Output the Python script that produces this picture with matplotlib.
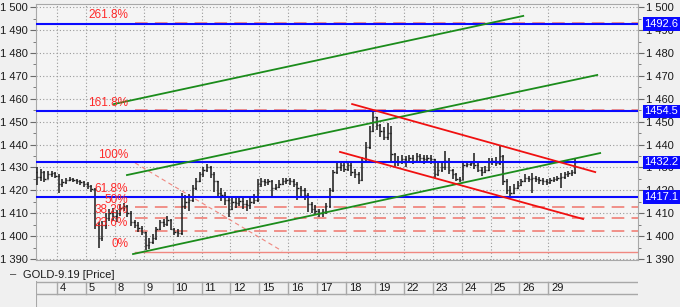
import numpy as np
import matplotlib
matplotlib.use('Agg')
import matplotlib.pyplot as plt
from matplotlib.ticker import FuncFormatter, MultipleLocator

plt.rcParams['font.family'] = ['Liberation Sans', 'DejaVu Sans']

# session days (July 2019), first one only partly visible
days = ['3', '4', '5', '8', '9', '10', '11', '12', '15', '16', '17', '18', '19',
        '22', '23', '24', '25', '26', '29']
bars_per_day = 8
first_day_bars = 6
first_open = 1428.0

closes = [
    1426, 1428, 1425, 1427, 1427.5, 1426.5,
    1423, 1423.5, 1424.5, 1425, 1424.5, 1424, 1423.5, 1423,
    1422, 1420.5, 1405, 1399, 1405, 1408, 1410, 1409,
    1410, 1412.5, 1413, 1410, 1406, 1405, 1403.5, 1402,
    1396, 1397.5, 1399, 1403, 1406, 1405.5, 1407, 1403,
    1402, 1401.5, 1413, 1415, 1416, 1421, 1424, 1427,
    1429, 1430, 1427, 1424, 1419, 1418, 1416, 1412,
    1415, 1414.5, 1415.5, 1414, 1413.5, 1415, 1416, 1423,
    1424, 1423.5, 1424, 1421, 1421.5, 1423, 1424, 1424.5,
    1424, 1423, 1421, 1420, 1418, 1414, 1412, 1411,
    1410, 1410.5, 1413, 1420, 1428, 1430, 1431, 1429.5,
    1431, 1428, 1427, 1424.5, 1433, 1439, 1446, 1452,
    1448.5, 1446, 1443.5, 1445, 1436, 1433, 1432.5, 1433.5,
    1433, 1434, 1433, 1435, 1434, 1433.5, 1434, 1433.5,
    1427, 1429, 1430, 1433, 1429, 1427, 1425, 1424.5,
    1431, 1431.5, 1432, 1431, 1429, 1428, 1429, 1432.5,
    1433, 1432, 1435, 1424, 1420, 1419, 1421, 1422.5,
    1424, 1425.5, 1425, 1425.5, 1425, 1424.5, 1424, 1423.5,
    1424.5, 1425, 1425.5, 1426, 1427, 1427.5, 1428, 1432.5,
]
highs = [
    1430, 1429.5, 1428.5, 1428.5, 1428.5, 1428,
    1427, 1425, 1425.5, 1426, 1425.5, 1425, 1424.5, 1424,
    1423.5, 1422.5, 1421, 1406, 1406.5, 1410, 1412, 1412.5,
    1411.5, 1414, 1414.5, 1413.5, 1411, 1407, 1406, 1404.5,
    1401, 1399, 1401, 1404, 1407, 1407.5, 1409, 1407.5,
    1403.5, 1403, 1419, 1418, 1418.5, 1422.5, 1425.5, 1428,
    1430, 1431.5, 1430.5, 1428, 1424, 1421, 1419.5, 1417,
    1417.5, 1417, 1417.5, 1416.5, 1416, 1417, 1418.5, 1425,
    1425.5, 1425, 1425, 1424.5, 1423, 1424.5, 1425.5, 1425.5,
    1425.5, 1425, 1423.5, 1422, 1421, 1419, 1415, 1413.5,
    1412, 1412, 1414.5, 1421, 1429, 1432, 1432.5, 1432,
    1433, 1432, 1429.5, 1428, 1434.5, 1441, 1448, 1455,
    1451, 1449, 1447.5, 1449.5, 1448, 1436.5, 1435, 1435.5,
    1435, 1435.5, 1435.5, 1436.5, 1436, 1435.5, 1435.5, 1435.5,
    1432, 1432, 1432, 1437, 1434, 1429.5, 1427.5, 1426,
    1432.5, 1433, 1433, 1436.5, 1432, 1430, 1430.5, 1434,
    1434, 1434.5, 1440, 1435.5, 1425, 1422, 1423, 1424,
    1425, 1427, 1426.5, 1427.5, 1426.5, 1426, 1425.5, 1425,
    1425.5, 1426, 1426.5, 1427.5, 1428, 1428.5, 1429, 1434,
]
lows = [
    1422.5, 1424, 1423.5, 1425, 1426, 1425.5,
    1419, 1421.5, 1423, 1424, 1423.5, 1423, 1422.5, 1421.5,
    1420.5, 1419.5, 1403, 1395, 1398, 1403, 1406.5, 1406.5,
    1406, 1409, 1411, 1408.5, 1404.5, 1403.5, 1402, 1400.5,
    1394, 1394.5, 1396.5, 1398.5, 1402.5, 1404, 1404.5, 1402.5,
    1400.5, 1399.5, 1400.5, 1412, 1411, 1415, 1420, 1423.5,
    1426, 1428, 1425.5, 1419.5, 1417, 1415.5, 1413.5, 1408.5,
    1411.5, 1412.5, 1413, 1412, 1411, 1412, 1414, 1415,
    1421.5, 1422, 1422.5, 1417, 1420, 1421, 1422.5, 1423,
    1422.5, 1421.5, 1416, 1417.5, 1416, 1410.5, 1410, 1409.5,
    1408.5, 1408.5, 1409.5, 1412.5, 1419.5, 1427, 1428.5, 1428,
    1428.5, 1426.5, 1425.5, 1423, 1424, 1432, 1438, 1445.5,
    1446.5, 1443.5, 1442, 1442, 1433, 1430, 1430.5, 1431.5,
    1430, 1432, 1431.5, 1432.5, 1432, 1431.5, 1432, 1431.5,
    1425.5, 1426.5, 1428, 1429, 1427, 1425, 1424, 1423.5,
    1425.5, 1430, 1430.5, 1429.5, 1428, 1426.5, 1427.5, 1428.5,
    1431, 1430.5, 1431, 1422.5, 1418.5, 1417, 1418.5, 1420.5,
    1422, 1423.5, 1423.5, 1419, 1423.5, 1423, 1422.5, 1422.5,
    1423, 1423.5, 1424, 1421, 1425, 1426, 1426.5, 1427,
]

# horizontal levels with price boxes on the right
level_prices = [1492.6, 1454.5, 1432.2, 1417.1]

# fibonacci retracement
fib_labels = ['0%', '23.6%', '38.2%', '50%', '61.8%', '100%', '161.8%', '261.8%']
fib_prices = [1393.2, 1402.4, 1408.1, 1412.7, 1417.3, 1432.3, 1455.0, 1493.3]
fib_start = 2.7
fib_diag = [(2.7, 1432.0), (7.79, 1393.5)]

# trend channels, (day position, price) end points
green_lines = [[(1.97, 1457.7), (16.13, 1496.2)],
               [(2.42, 1426.7), (18.69, 1470.4)],
               [(2.63, 1392.2), (18.79, 1436.3)]]
red_lines = [[(10.21, 1457.7), (18.62, 1428.0)],
             [(9.79, 1436.8), (18.20, 1407.5)]]

# bar positions in day units (day "4" starts at 0)
n = len(closes)
x = np.array([-1 + (i + bars_per_day - first_day_bars + 0.5) / bars_per_day
              for i in range(n)])
opens = np.array([first_open] + closes[:-1])
closes = np.array(closes)
highs = np.maximum(np.array(highs), np.maximum(opens, closes))
lows = np.minimum(np.array(lows), np.minimum(opens, closes))

W, H = 680, 307
fig = plt.figure(figsize=(W / 100, H / 100), dpi=100, facecolor='#f0f0f0')
ax = fig.add_axes([36 / W, (H - 260) / H, 602 / W, 256 / H])
ax.set_facecolor('#f4f4f4')
xmin, xmax = -0.727, 20.10
ax.set_xlim(xmin, xmax)
ax.set_ylim(1389.6, 1501.4)

# grid
for v in range(1390, 1501, 10):
    ax.axhline(v, color='#9a9a9a', lw=0.8, ls=(0, (1, 2)), zorder=1)
for d in range(len(days) - 1):
    ax.axvline(d, color='#9a9a9a', lw=0.8, ls=(0, (1, 2)), zorder=1)

# fib lines
fib_col = '#f08880'
for lab, p in zip(fib_labels, fib_prices):
    if lab == '0%':
        ax.plot([fib_start, xmax], [p, p], color=fib_col, lw=1.0, zorder=2)
    else:
        ax.plot([fib_start, xmax], [p, p], color=fib_col, lw=1.3,
                ls=(0, (7, 4)), zorder=2)
    ax.text(2.46, p + 0.6, lab, color='#ff2a2a', fontsize=8.5, ha='right',
            va='bottom', zorder=6)
ax.plot(*zip(*fib_diag), color=fib_col, lw=0.8, ls=(0, (4, 3)), zorder=2)

# price bars
tick = 0.045
ax.vlines(x, lows, highs, color='#1a1a1a', lw=1.1, zorder=3)
ax.hlines(opens, x - tick, x, color='#1a1a1a', lw=1.0, zorder=3)
ax.hlines(closes, x, x + tick, color='#1a1a1a', lw=1.0, zorder=3)

# horizontal levels
for p in level_prices:
    ax.axhline(p, color='#0a0aff', lw=1.5, zorder=4)
    ax.text(1.0105, p, f'{p:.1f}', transform=ax.get_yaxis_transform(),
            color='white', fontsize=8, ha='left', va='center', clip_on=False,
            bbox=dict(facecolor='#0a0aff', edgecolor='none', pad=1.2), zorder=7)

for seg in green_lines:
    ax.plot(*zip(*seg), color='#1b8c1b', lw=1.3, zorder=5)
for seg in red_lines:
    ax.plot(*zip(*seg), color='#f01010', lw=1.3, zorder=5)

# axes styling
ax.set_xticks([])
ax.yaxis.set_major_locator(MultipleLocator(10))
ax.yaxis.set_minor_locator(MultipleLocator(5))
ax.yaxis.set_major_formatter(FuncFormatter(lambda v, pos: f'{int(v):,}'.replace(',', ' ')))
ax.tick_params(axis='y', which='both', left=True, right=True, labelleft=True,
               labelright=True, labelsize=8, colors='#6a6a6a', labelcolor='#1a1a1a',
               pad=2)
ax.tick_params(axis='y', which='major', length=4)
ax.tick_params(axis='y', which='minor', length=2)
for s in ax.spines.values():
    s.set_color('#a8a8a8')

# header
fig.text(10 / W, 1 - 274.5 / H, '–', fontsize=8, color='#333333', va='center')
fig.text(23 / W, 1 - 274.5 / H, 'GOLD-9.19 [Price]', fontsize=8, color='#1a1a1a',
         va='center')

# date strip
axd = fig.add_axes([36 / W, 0, 602 / W, 26 / H])
axd.set_facecolor('#f0f0f0')
axd.set_xlim(xmin, xmax)
axd.set_ylim(0, 26)
axd.axis('off')
axd.plot([xmin, xmax], [25.5, 25.5], color='#a8a8a8', lw=1)
axd.plot([xmin, xmax], [13, 13], color='#a8a8a8', lw=1)
axd.plot([xmin, xmin], [0, 25.5], color='#a8a8a8', lw=1.5)
for d, lab in enumerate(days[1:]):
    axd.plot([d, d], [13, 25.5], color='#a8a8a8', lw=1)
    axd.text(d + 0.1, 19.3, lab, fontsize=8, color='#1a1a1a', va='center', ha='left')

fig.savefig('out.png', dpi=100, facecolor=fig.get_facecolor())
